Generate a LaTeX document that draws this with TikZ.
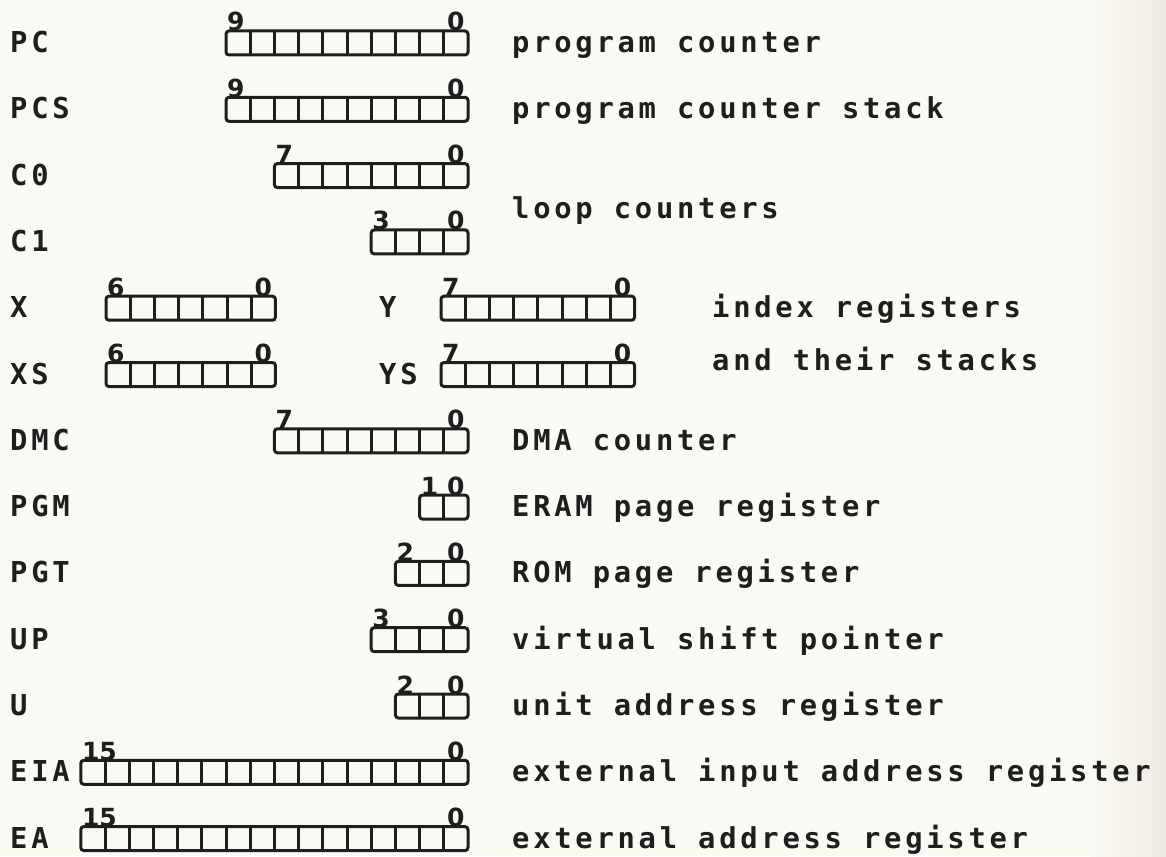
\documentclass[tikz,border=0pt]{standalone}
\usepackage{fontspec}
\newfontfamily\plotfont{DejaVu Sans Mono}[LetterSpace=13]
\newfontfamily\digfont{DejaVu Sans}
\definecolor{ink}{HTML}{1E1E1E}
\definecolor{paper}{HTML}{FAF9F3}
\definecolor{paperdark}{HTML}{EEECE2}
\newcommand\regbox[5]{%
  \pgfmathsetmacro\rw{#4*24.2}%
  \node[regframe, minimum width=\rw pt] (#1) at ({#2-\rw/2},{#3+1}) {};
  \pgfmathtruncatemacro\nn{#4-1}%
  \foreach \i in {1,...,\nn}{\draw[regline] ([xshift=\i*24.2pt]#1.south west) -- ([xshift=\i*24.2pt]#1.north west);}
  \node[bitno, anchor=base west] (#1-msb) at ([xshift=1pt]#1.north west) {#5};
  \node[bitno, anchor=base] (#1-lsb) at ([xshift=-12.1pt]#1.north east) {0};
}
\begin{document}
\begin{tikzpicture}[x=1pt,y=-1pt,
  lab/.style={anchor=base west, inner sep=0pt, text=ink, font=\plotfont\bfseries\fontsize{28.8}{30}\selectfont},
  regframe/.style={draw=ink, line width=3pt, rounded corners=3pt, minimum height=24pt, inner sep=0pt, outer sep=0pt},
  regline/.style={draw=ink, line width=3pt},
  bitno/.style={inner sep=0pt, text=ink, font=\digfont\bfseries\fontsize{25}{26}\selectfont}]
\useasboundingbox (0,0) rectangle (1166,856);
\fill[paper] (0,0) rectangle (1166,856);
\shade[left color=paper, right color=paperdark] (1090,0) rectangle (1166,856);
% row centres: 42 + 66.3 k
% PC
\node[lab] (l-pc) at (10,52.5) {PC};
\regbox{pc}{468}{42}{10}{9}
\node[lab] (d-pc) at (512,52.5) {program counter};
% PCS
\node[lab] (l-pcs) at (10,118.8) {PCS};
\regbox{pcs}{468}{108.3}{10}{9}
\node[lab] (d-pcs) at (512,118.8) {program counter stack};
% C0
\node[lab] (l-c0) at (10,185.1) {C0};
\regbox{c0}{468}{174.6}{8}{7}
% C1
\node[lab] (l-c1) at (10,251.4) {C1};
\regbox{c1}{468}{240.9}{4}{3}
\node[lab] (d-c) at (512,218) {loop counters};
% X / Y
\node[lab] (l-x) at (10,317.7) {X};
\regbox{x}{275.4}{307.2}{7}{6}
\node[lab] (l-y) at (379,317.7) {Y};
\regbox{y}{634.6}{307.2}{8}{7}
\node[lab] (d-xy) at (712,317.7) {index registers};
% XS / YS
\node[lab] (l-xs) at (10,384) {XS};
\regbox{xs}{275.4}{373.5}{7}{6}
\node[lab] (l-ys) at (379,384) {YS};
\regbox{ys}{634.6}{373.5}{8}{7}
\node[lab] (d-xys) at (712,370) {and their stacks};
% DMC
\node[lab] (l-dmc) at (10,450.3) {DMC};
\regbox{dmc}{468}{439.8}{8}{7}
\node[lab] (d-dmc) at (512,450.3) {DMA counter};
% PGM
\node[lab] (l-pgm) at (10,516.6) {PGM};
\regbox{pgm}{468}{506.1}{2}{1}
\node[lab] (d-pgm) at (512,516.6) {ERAM page register};
% PGT
\node[lab] (l-pgt) at (10,582.9) {PGT};
\regbox{pgt}{468}{572.4}{3}{2}
\node[lab] (d-pgt) at (512,582.9) {ROM page register};
% UP
\node[lab] (l-up) at (10,649.2) {UP};
\regbox{up}{468}{638.7}{4}{3}
\node[lab] (d-up) at (512,649.2) {virtual shift pointer};
% U
\node[lab] (l-u) at (10,715.5) {U};
\regbox{u}{468}{705}{3}{2}
\node[lab] (d-u) at (512,715.5) {unit address register};
% EIA
\node[lab] (l-eia) at (10,781.8) {EIA};
\regbox{eia}{468}{771.3}{16}{15}
\node[lab] (d-eia) at (512,781.8) {external input address register};
% EA
\node[lab] (l-ea) at (10,848.1) {EA};
\regbox{ea}{468}{837.6}{16}{15}
\node[lab] (d-ea) at (512,848.1) {external address register};
\end{tikzpicture}
\end{document}
